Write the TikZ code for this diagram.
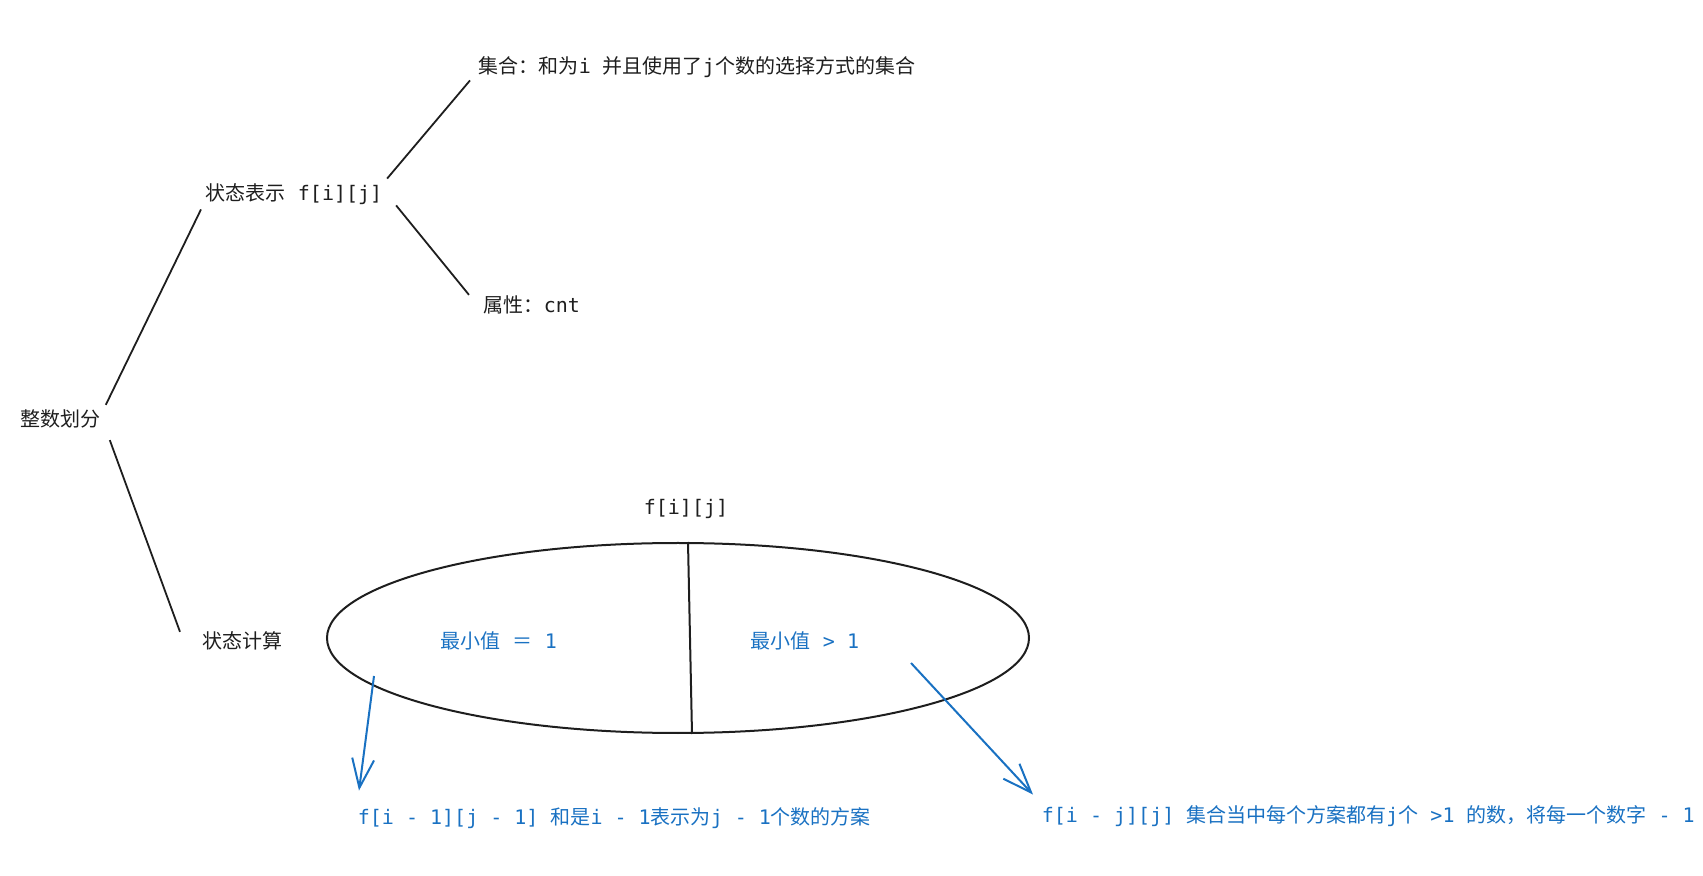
\documentclass[tikz,border=0pt]{standalone}
\usepackage{fontspec}
\setmainfont{DejaVu Sans Mono}
\newfontfamily\cjk{Noto Sans CJK SC}
\usepackage{tikz}
\usetikzlibrary{arrows.meta,calc,shapes.geometric}
\definecolor{ink}{HTML}{1E1E1E}
\definecolor{inkblue}{HTML}{1971C2}

\begin{document}
\begin{tikzpicture}[x=0.5pt, y=-0.5pt, line width=0.9pt, color=ink,
  lbl/.style={inner sep=2pt, anchor=west, font=\fontsize{10}{12}\selectfont},
  bluelbl/.style={lbl, text=inkblue},
  bluearrow/.style={draw=inkblue, line width=1pt, -{Straight Barb[length=14.5pt, width=11pt]}}]
\useasboundingbox (0,0) rectangle (1703,876);
%----------------------------------------
\node[lbl] (root) at (16,419) {\cjk 整数划分};
\node[lbl] (rep) at (201,194) {{\cjk 状态表示} f[i][j]};
\node[lbl] (set) at (474,67) {{\cjk 集合：和为}i {\cjk 并且使用了}j{\cjk 个数的选择方式的集合}};
\node[lbl] (attr) at (479,305) {{\cjk 属性：}cnt};
\node[lbl] (calc) at (198,641) {\cjk 状态计算};
%----------------------------------------
\draw (root.north east) -- (rep.south west);
\draw ($(root.south east)+(4,7)$) -- ($(calc.north west)+(-18,5)$);
\draw (rep.north east) -- ($(set.south west)+(-4,-2)$);
\draw ($(rep.south east)+(9,-4)$) -- ($(attr.north west)+(-10,4)$);
%----------------------------------------
\node[lbl, anchor=center] (fij) at (686,509) {f[i][j]};
\node[draw, line width=1pt, ellipse, minimum width=351pt, minimum height=95pt, inner sep=0pt] (split) at (678,638) {};
\draw[line width=1pt] ($(split.north)+(10,0)$) -- ($(split.south)+(14,0)$);
\node[bluelbl] (lo) at (436,641) {{\cjk 最小值} {\cjk ＝} 1};
\node[bluelbl] (hi) at (746,641) {{\cjk 最小值} > 1};
%----------------------------------------
\node[bluelbl] (lores) at (353,818) {f[i - 1][j - 1] {\cjk 和是}i - 1{\cjk 表示为}j - 1{\cjk 个数的方案}};
\node[bluelbl] (hires) at (1037,816) {f[i - j][j] {\cjk 集合当中每个方案都有}j{\cjk 个} >1 {\cjk 的数，将每一个数字} - 1};
\coordinate (p) at (374,676);
\coordinate (q) at (911,663);
\draw[bluearrow] (p) -- ($(lores.north west)+(6,-12)$);
\draw[bluearrow] (q) -- ($(hires.north west)+(-4,-6)$);
\end{tikzpicture}
\end{document}
